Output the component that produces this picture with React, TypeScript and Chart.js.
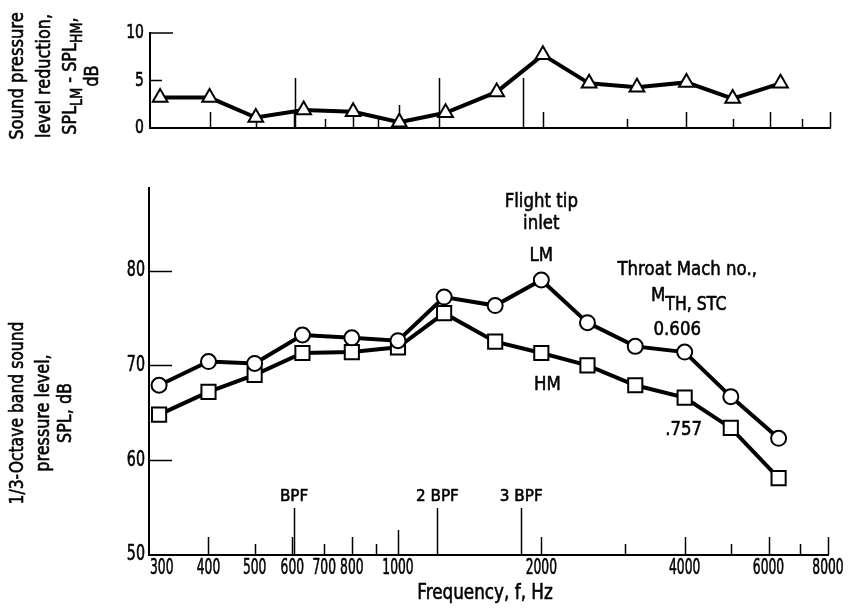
import React, { useEffect, useRef } from "react";
import { Chart, registerables } from "chart.js";
Chart.register(...registerables);

// ---- data ----
const frequencies = [315, 400, 500, 630, 800, 1000, 1250, 1600, 2000, 2500, 3150, 4000, 5000, 6300];
const splLM = [67.9, 70.4, 70.2, 73.2, 72.9, 72.6, 77.2, 76.3, 79.0, 74.5, 72.0, 71.4, 66.7, 62.3];
const splHM = [64.8, 67.2, 69.0, 71.3, 71.4, 71.9, 75.5, 72.5, 71.3, 70.0, 67.9, 66.6, 63.4, 58.1];
const splReduction = [3.2, 3.2, 1.1, 1.9, 1.7, 0.6, 1.6, 3.8, 7.7, 4.7, 4.3, 4.8, 3.1, 4.7];

const xTickLabels = [300, 400, 500, 600, 700, 800, 1000, 2000, 4000, 6000, 8000];
const topYTicks = [0, 5, 10];
const bottomYTicks = [50, 60, 70, 80];
const majorTicks = [400, 600, 800, 2000, 4000, 6000, 8000];
const minorTicks = [500, 700, 900, 3000, 5000, 7000];
const decadeTicks = [1000];
const bpfFreqs = [605, 1210, 1815];
const bpfLabels = ["BPF", "2 BPF", "3 BPF"];

const FONT = "'DejaVu Sans', 'Noto Sans', sans-serif";
Chart.defaults.font.family = FONT;
Chart.defaults.color = "#000";

type Part = { t: string; sub?: boolean };

function drawRich(
  ctx: CanvasRenderingContext2D,
  parts: Part[],
  cx: number,
  cy: number,
  size: number,
  rotate: boolean,
  sx = 0.82,
  align: "center" | "left" | "right" = "center",
  subScale = 0.8,
  subShift = 0.35
) {
  ctx.save();
  ctx.translate(cx, cy);
  if (rotate) ctx.rotate(-Math.PI / 2);
  ctx.scale(sx, 1);
  const widths: number[] = [];
  let total = 0;
  parts.forEach((p) => {
    ctx.font = `${p.sub ? size * subScale : size}px ${FONT}`;
    const w = ctx.measureText(p.t).width;
    widths.push(w);
    total += w;
  });
  let x = align === "center" ? -total / 2 : align === "left" ? 0 : -total;
  ctx.textBaseline = "middle";
  ctx.textAlign = "left";
  ctx.fillStyle = "#000";
  ctx.strokeStyle = "#000";
  ctx.lineWidth = 0.6;
  ctx.lineJoin = "round";
  parts.forEach((p, i) => {
    ctx.font = `${p.sub ? size * subScale : size}px ${FONT}`;
    const yy = p.sub ? size * subShift : 0;
    ctx.fillText(p.t, x, yy);
    ctx.strokeText(p.t, x, yy);
    x += widths[i];
  });
  ctx.restore();
}

function vTicks(ctx: CanvasRenderingContext2D, xs: any, base: number, freqs: number[], len: number) {
  freqs.forEach((f) => {
    const px = Math.round(xs.getPixelForValue(f)) + 0.5;
    ctx.beginPath();
    ctx.moveTo(px, base);
    ctx.lineTo(px, base - len);
    ctx.stroke();
  });
}

const topDecor = {
  id: "topDecor",
  beforeDatasetsDraw(chart: any) {
    const { ctx } = chart;
    const xs = chart.scales.x;
    const ys = chart.scales.y;
    const base = ys.getPixelForValue(0);
    ctx.save();
    ctx.strokeStyle = "#000";
    ctx.lineWidth = 1.5;
    vTicks(ctx, xs, base, majorTicks, 16);
    vTicks(ctx, xs, base, minorTicks, 9);
    vTicks(ctx, xs, base, decadeTicks, 23);
    vTicks(ctx, xs, base, bpfFreqs, 50);
    const left = xs.left;
    const y10 = ys.getPixelForValue(10);
    const y5 = ys.getPixelForValue(5);
    ctx.beginPath();
    ctx.moveTo(left, y10); ctx.lineTo(left + 23, y10);
    ctx.moveTo(left, y5); ctx.lineTo(left + 12, y5);
    ctx.stroke();
    ctx.restore();
  },
  afterDraw(chart: any) {
    const { ctx } = chart;
    const ys = chart.scales.y;
    topYTicks.forEach((v) => {
      drawRich(ctx, [{ t: String(v) }], 144, ys.getPixelForValue(v), 19.5, false, 0.72, "right");
    });
    const s = 20;
    drawRich(ctx, [{ t: "Sound pressure" }], 18, 76, s, true, 0.82);
    drawRich(ctx, [{ t: "level reduction," }], 45, 76, s, true, 0.8);
    drawRich(ctx, [{ t: "SPL" }, { t: "LM", sub: true }, { t: " - SPL" }, { t: "HM", sub: true }, { t: "," }], 71, 76, s, true, 0.8);
    drawRich(ctx, [{ t: "dB" }], 93, 76, s, true, 0.82);
  },
};

const bottomDecor = {
  id: "bottomDecor",
  beforeDatasetsDraw(chart: any) {
    const { ctx } = chart;
    const xs = chart.scales.x;
    const ys = chart.scales.y;
    const base = ys.getPixelForValue(50);
    ctx.save();
    ctx.strokeStyle = "#000";
    ctx.lineWidth = 1.5;
    vTicks(ctx, xs, base, majorTicks, 18);
    vTicks(ctx, xs, base, minorTicks, 11);
    vTicks(ctx, xs, base, decadeTicks, 25);
    vTicks(ctx, xs, base, bpfFreqs, 47);
    const left = xs.left;
    bottomYTicks.slice(1).forEach((v) => {
      const py = Math.round(ys.getPixelForValue(v)) + 0.5;
      ctx.beginPath();
      ctx.moveTo(left, py);
      ctx.lineTo(left + 23, py);
      ctx.stroke();
    });
    ctx.restore();
  },
  afterDraw(chart: any) {
    const { ctx } = chart;
    const xs = chart.scales.x;
    const ys = chart.scales.y;
    const base = ys.getPixelForValue(50);
    // tick labels
    bottomYTicks.forEach((v) => {
      drawRich(ctx, [{ t: String(v) }], 145, ys.getPixelForValue(v), 21, false, 0.68, "right");
    });
    xTickLabels.forEach((v, i) => {
      const px = xs.getPixelForValue(v);
      if (i === 0) drawRich(ctx, [{ t: String(v) }], px + 1, base + 14, 20.5, false, 0.6, "left");
      else drawRich(ctx, [{ t: String(v) }], px, base + 14, 20.5, false, 0.6, "center");
    });
    const s = 20;
    // y title
    drawRich(ctx, [{ t: "1/3-Octave band sound" }], 18, 263, s, true, 0.78);
    drawRich(ctx, [{ t: "pressure level," }], 44, 263, s, true, 0.8);
    drawRich(ctx, [{ t: "SPL, dB" }], 66, 263, s, true, 0.8);
    // x title
    drawRich(ctx, [{ t: "Frequency, f, Hz" }], 485, base + 39, 20.5, false, 0.82);
    // BPF labels
    bpfFreqs.forEach((f, i) => {
      drawRich(ctx, [{ t: bpfLabels[i] }], xs.getPixelForValue(f), base - 58, 16, false, 0.95);
    });
    const put = (parts: Part[], f: number, v: number, sc = 0.8, sh = 0.35) => {
      drawRich(ctx, parts, xs.getPixelForValue(f), ys.getPixelForValue(v), 20, false, 0.83, "center", sc, sh);
    };
    put([{ t: "Flight tip" }], 2000, 87.2);
    put([{ t: "inlet" }], 2000, 84.9);
    put([{ t: "LM" }], 2000, 81.5);
    put([{ t: "Throat Mach no.," }], 4050, 80.1);
    put([{ t: "M" }, { t: "TH, STC", sub: true }], 4080, 77.3, 0.95, 0.45);
    put([{ t: "0.606" }], 3860, 73.8);
    put([{ t: "HM" }], 2060, 67.9);
    put([{ t: ".757" }], 3980, 63.2);
  },
};

function pts(ys: number[]) {
  return frequencies.map((f, i) => ({ x: f, y: ys[i] }));
}

const lineStyle = {
  borderColor: "#000",
  borderWidth: 4,
  pointBackgroundColor: "#fff",
  pointBorderColor: "#000",
  pointBorderWidth: 2,
  tension: 0,
};

const hiddenTicks = { display: false };

export default function App() {
  const topRef = useRef<HTMLCanvasElement>(null);
  const botRef = useRef<HTMLCanvasElement>(null);

  useEffect(() => {
    const c1 = new Chart(topRef.current as HTMLCanvasElement, {
      type: "line",
      data: {
        datasets: [
          { ...lineStyle, data: pts(splReduction), pointStyle: "triangle", pointRadius: 8.5 } as any,
        ],
      },
      options: {
        animation: false,
        responsive: false,
        devicePixelRatio: 1,
        layout: { padding: { left: 0, right: 18, top: 33, bottom: 0 } },
        plugins: { legend: { display: false }, tooltip: { enabled: false } },
        scales: {
          x: {
            type: "logarithmic",
            min: 300,
            max: 8000,
            ticks: hiddenTicks,
            grid: { display: false, drawTicks: false },
            border: { display: true, color: "#000", width: 2 },
            afterFit: (s: any) => { s.height = 22; },
          },
          y: {
            min: 0,
            max: 10,
            afterBuildTicks: (s: any) => { s.ticks = topYTicks.map((v) => ({ value: v })); },
            ticks: hiddenTicks,
            grid: { display: false, drawTicks: false },
            border: { display: true, color: "#000", width: 2 },
            afterFit: (s: any) => { s.width = 150; },
          },
        },
      } as any,
      plugins: [topDecor],
    });

    const c2 = new Chart(botRef.current as HTMLCanvasElement, {
      type: "line",
      data: {
        datasets: [
          { ...lineStyle, data: pts(splLM), pointStyle: "circle", pointRadius: 7.5 } as any,
          { ...lineStyle, data: pts(splHM), pointStyle: "rect", pointRadius: 10 } as any,
        ],
      },
      options: {
        animation: false,
        responsive: false,
        devicePixelRatio: 1,
        layout: { padding: { left: 0, right: 20, top: 38, bottom: 0 } },
        plugins: { legend: { display: false }, tooltip: { enabled: false } },
        scales: {
          x: {
            type: "logarithmic",
            min: 300,
            max: 8000,
            afterBuildTicks: (s: any) => { s.ticks = xTickLabels.map((v) => ({ value: v })); },
            ticks: hiddenTicks,
            grid: { display: false, drawTicks: false },
            border: { display: true, color: "#000", width: 2 },
            afterFit: (s: any) => { s.height = 55; },
          },
          y: {
            min: 50,
            max: 88.7,
            afterBuildTicks: (s: any) => { s.ticks = bottomYTicks.map((v) => ({ value: v })); },
            ticks: hiddenTicks,
            grid: { display: false, drawTicks: false },
            border: { display: true, color: "#000", width: 2 },
            afterFit: (s: any) => { s.width = 149; },
          },
        },
      } as any,
      plugins: [bottomDecor],
    });

    return () => {
      c1.destroy();
      c2.destroy();
    };
  }, []);

  return (
    <div style={{ position: "absolute", left: 0, top: 0, width: 848, height: 610, background: "#fff" }}>
      <canvas ref={topRef} width={848} height={150} style={{ position: "absolute", left: 0, top: 0, width: 848, height: 150 }} />
      <canvas ref={botRef} width={848} height={460} style={{ position: "absolute", left: 0, top: 150, width: 848, height: 460 }} />
    </div>
  );
}
